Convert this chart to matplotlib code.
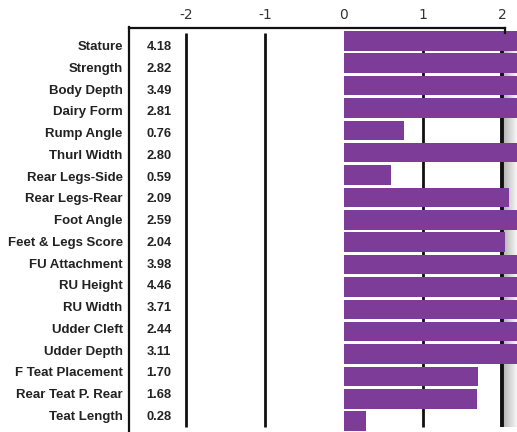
import numpy as np
import matplotlib.pyplot as plt

# === Data ===
traits = ["Stature", "Strength", "Body Depth", "Dairy Form", "Rump Angle",
          "Thurl Width", "Rear Legs-Side", "Rear Legs-Rear", "Foot Angle",
          "Feet & Legs Score", "FU Attachment", "RU Height", "RU Width",
          "Udder Cleft", "Udder Depth", "F Teat Placement", "Rear Teat P. Rear",
          "Teat Length"]
values = [4.18, 2.82, 3.49, 2.81, 0.76, 2.80, 0.59, 2.09, 2.59, 2.04,
          3.98, 4.46, 3.71, 2.44, 3.11, 1.70, 1.68, 0.28]
ticks = [-2, -1, 0, 1, 2]

purple = "#7d3c98"
label_font = ["Liberation Sans Narrow", "Liberation Sans", "DejaVu Sans"]

fig = plt.figure(figsize=(5.17, 4.32), dpi=100)
# axes spans from the frame's left line to the right edge of the image;
# y runs in pixel rows from the frame top (27) to the image bottom (432)
ax = fig.add_axes([129 / 517, 0, 388 / 517, 405 / 432])
ax.set_xlim(-2.72, 2.19)
ax.set_ylim(432, 27)
ax.axis("off")

n = len(traits)
bar_y = 40.8 + 22.375 * np.arange(n)
text_y = 47 + 21.76 * np.arange(n)
grid_top, grid_bot = 33, 427

# shadow to the right of the "2" line
grad = np.linspace(0.72, 0.97, 50).reshape(1, -1)
ax.imshow(grad, cmap="gray", vmin=0, vmax=1, aspect="auto",
          extent=[2.03, 2.19, grid_bot, grid_top], zorder=1)

for t in ticks:
    if t == 0:
        continue
    lw = 2.8 if t == 2 else 2.0
    ax.vlines(t, grid_top, grid_bot, color="#111111", lw=lw, zorder=2)

ax.barh(bar_y, values, height=19.4, color=purple, zorder=3)

# frame: top line, left line, short drop at right end
ax.plot([-2.72, 2.04], [27.5, 27.5], color="#111111", lw=1.6, clip_on=False, zorder=4)
ax.plot([2.04, 2.04], [27.5, 33], color="#111111", lw=1.6, clip_on=False, zorder=4)
ax.plot([-2.715, -2.715], [27, 432], color="#111111", lw=1.6, clip_on=False, zorder=4)

# top tick labels
for t in ticks:
    ax.text(t, 22, str(t), ha="center", va="bottom", fontsize=10,
            color="#333333", clip_on=False)

# trait names and values
for name, v, ty in zip(traits, values, text_y):
    ax.text(-2.80, ty, name, ha="right", va="center", fontsize=9.5,
            fontweight="bold", family=label_font, color="#222222", clip_on=False)
    ax.text(-2.50, ty, f"{v:.2f}", ha="left", va="center", fontsize=9.3,
            fontweight="bold", family=label_font, color="#222222")

fig.savefig("out.png", dpi=100)
